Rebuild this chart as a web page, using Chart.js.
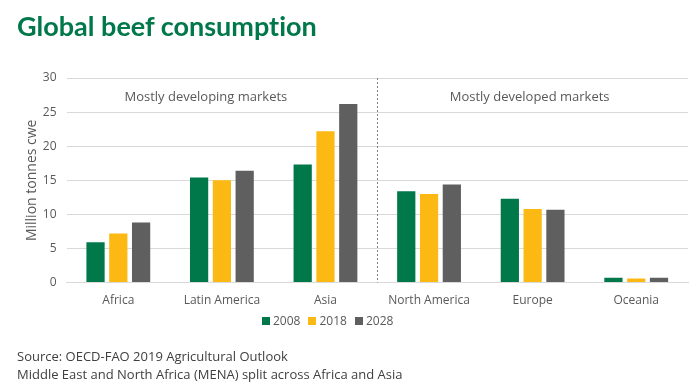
<!DOCTYPE html>
<html>
<head>
  <meta charset="UTF-8">
  <title>Global beef consumption</title>
  <style>
    body {
      margin: 0;
      background: #fff;
      font-family: "Open Sans", Arial, sans-serif;
    }
    #wrap {
      position: relative;
      width: 700px;
      height: 390px;
    }
    #title {
      position: absolute;
      left: 17px;
      top: 9px;
      font-family: Lato, "Open Sans", sans-serif;
      font-weight: bold;
      font-size: 27px;
      font-variant-ligatures: none;
      color: #00784a;
    }
    #legend {
      position: absolute;
      left: 262px;
      top: 312px;
      font-size: 12px;
      color: #595959;
      display: flex;
      gap: 8px;
    }
    #legend span.box {
      display: inline-block;
      width: 8px;
      height: 8px;
      margin-right: 3px;
    }
    #source {
      position: absolute;
      left: 17px;
      top: 347px;
      font-size: 13px;
      line-height: 18px;
      color: #404040;
    }
    #beefChart {
      position: absolute;
      left: 0;
      top: 0;
    }
  </style>
</head>
<body>
  <div id="wrap">
    <canvas id="beefChart" width="700" height="390"></canvas>
    <div id="title">Global beef consumption</div>
    <div id="legend"></div>
    <div id="source">Source: OECD-FAO 2019 Agricultural Outlook<br>Middle East and North Africa (MENA) split across Africa and Asia</div>
  </div>

  <script src="https://cdn.jsdelivr.net/npm/chart.js"></script>
  <script>
    const regions = ["Africa", "Latin America", "Asia", "North America", "Europe", "Oceania"];
    const years = ["2008", "2018", "2028"];
    const values2008 = [5.9, 15.4, 17.3, 13.4, 12.3, 0.7];
    const values2018 = [7.2, 15.0, 22.2, 13.0, 10.8, 0.6];
    const values2028 = [8.8, 16.4, 26.2, 14.4, 10.7, 0.7];
    const colors = ["#00784a", "#fdb913", "#5f5f5f"];
    const yTicks = [0, 5, 10, 15, 20, 25, 30];
    const groupLabels = ["Mostly developing markets", "Mostly developed markets"];

    const seriesValues = [values2008, values2018, values2028];

    // dashed divider + group captions
    const groupPlugin = {
      id: "groups",
      afterDatasetsDraw(chart) {
        const ctx = chart.ctx;
        const x = chart.scales.x;
        const area = chart.chartArea;
        const splitX = (x.getPixelForValue(2) + x.getPixelForValue(3)) / 2;
        ctx.save();
        ctx.strokeStyle = "#7f7f7f";
        ctx.lineWidth = 1;
        ctx.setLineDash([2, 2]);
        ctx.beginPath();
        ctx.moveTo(Math.round(splitX) + 0.5, area.top);
        ctx.lineTo(Math.round(splitX) + 0.5, area.bottom);
        ctx.stroke();
        ctx.setLineDash([]);
        ctx.fillStyle = "#595959";
        ctx.font = "13px 'Open Sans', Arial, sans-serif";
        ctx.textAlign = "center";
        ctx.textBaseline = "middle";
        const textY = chart.scales.y.getPixelForValue(27.1);
        ctx.fillText(groupLabels[0], (x.getPixelForValue(0) + x.getPixelForValue(2)) / 2 - 16, textY);
        ctx.fillText(groupLabels[1], (x.getPixelForValue(3) + x.getPixelForValue(5)) / 2 - 3, textY);
        ctx.restore();
      }
    };

    const ctx = document.getElementById("beefChart").getContext("2d");
    new Chart(ctx, {
      type: "bar",
      data: {
        labels: regions,
        datasets: years.map((year, i) => ({
          label: year,
          data: seriesValues[i],
          backgroundColor: colors[i],
          categoryPercentage: 0.66,
          barPercentage: 0.8,
        })),
      },
      options: {
        responsive: false,
        animation: false,
        devicePixelRatio: 1,
        layout: {
          padding: { top: 78, bottom: 79, left: 16, right: 12 },
        },
        plugins: {
          legend: { display: false },
          tooltip: { enabled: false },
        },
        scales: {
          x: {
            grid: { display: false },
            border: { color: "#d9d9d9" },
            ticks: {
              color: "#595959",
              font: { size: 12, family: "'Open Sans', Arial, sans-serif" },
              maxRotation: 0,
            },
          },
          y: {
            min: 0,
            max: 30,
            afterBuildTicks(axis) {
              axis.ticks = yTicks.map((v) => ({ value: v }));
            },
            grid: { color: "#d9d9d9", drawTicks: false },
            border: { display: false },
            ticks: {
              color: "#595959",
              padding: 10,
              font: { size: 12, family: "'Open Sans', Arial, sans-serif" },
            },
            title: {
              display: true,
              text: "Million tonnes cwe",
              color: "#595959",
              font: { size: 14, family: "'Open Sans', Arial, sans-serif" },
              padding: { top: 8, bottom: -8 },
            },
          },
        },
      },
      plugins: [groupPlugin],
    });

    const legend = document.getElementById("legend");
    years.forEach((year, i) => {
      const item = document.createElement("span");
      item.innerHTML = '<span class="box" style="background:' + colors[i] + '"></span>' + year;
      legend.appendChild(item);
    });
  </script>
</body>
</html>
